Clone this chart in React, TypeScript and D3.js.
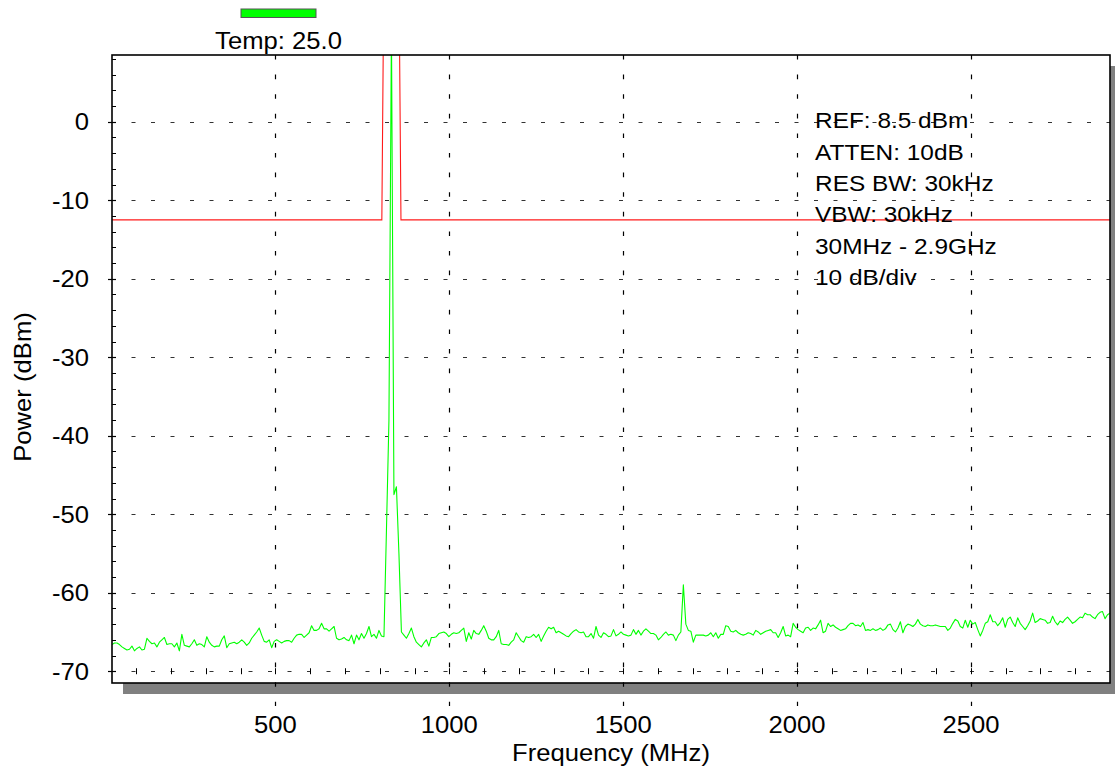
import React from 'react';
import * as d3 from 'd3';

// Sweep definition (401-point trace)
const FREQ_START = 30;
const FREQ_STOP = 2900;

// Measured trace (dBm), one value per sweep point
const POWER_DBM = [
  -66.6, -66.4, -66.4, -66.6, -66.9, -67.1, -67.3, -67.2, -66.8, -67.4,
  -67.1, -66.9, -67.3, -67.2, -65.8, -66.2, -66.5, -66.4, -66.9, -66.3,
  -66.0, -65.7, -66.6, -66.5, -66.5, -66.9, -66.4, -67.4, -65.3, -66.7,
  -66.8, -66.9, -66.5, -66.0, -66.7, -66.5, -66.6, -66.9, -65.6, -66.3,
  -66.7, -66.9, -66.8, -66.8, -66.0, -65.5, -67.0, -66.5, -66.4, -66.3,
  -66.5, -66.3, -66.0, -66.3, -66.7, -66.4, -65.8, -65.4, -65.0, -64.5,
  -65.4, -66.2, -66.3, -66.0, -67.0, -66.2, -66.0, -66.2, -66.4, -66.2,
  -66.1, -66.1, -66.3, -65.8, -65.4, -65.3, -65.3, -65.7, -65.4, -65.1,
  -64.2, -64.8, -64.8, -64.6, -63.9, -64.6, -64.6, -64.9, -64.6, -64.3,
  -65.8, -66.0, -65.9, -65.7, -66.0, -66.1, -65.4, -66.5, -65.4, -66.0,
  -65.2, -65.8, -65.2, -64.3, -65.6, -65.3, -65.8, -64.8, -65.5, -65.6,
  -52.0, -38.0, 12.0, -47.5, -46.5, -55.0, -65.0, -65.4, -65.8, -65.2,
  -64.5, -65.6, -66.3, -66.6, -66.9, -66.4, -66.0, -66.8, -65.7, -65.7,
  -65.6, -65.2, -65.1, -65.0, -65.2, -65.6, -65.3, -65.1, -65.2, -65.1,
  -64.8, -64.5, -66.2, -65.1, -65.9, -64.8, -65.2, -65.3, -64.8, -64.2,
  -64.9, -65.8, -66.0, -66.0, -65.6, -64.8, -66.5, -66.6, -66.6, -66.7,
  -66.3, -66.0, -65.1, -65.6, -66.1, -66.3, -65.6, -65.7, -65.6, -65.3,
  -65.7, -65.3, -66.2, -65.5, -64.9, -64.4, -64.6, -64.4, -65.1, -64.9,
  -65.1, -65.3, -65.5, -65.6, -65.2, -64.9, -64.7, -65.0, -65.1, -65.0,
  -65.6, -65.6, -65.2, -65.8, -64.3, -65.4, -65.7, -65.1, -65.3, -65.6,
  -65.5, -64.7, -65.5, -65.3, -65.0, -65.3, -65.4, -65.5, -65.4, -64.7,
  -65.3, -64.8, -65.4, -64.9, -64.6, -64.9, -65.2, -65.2, -65.4, -66.0,
  -65.7, -65.3, -65.0, -65.4, -65.3, -65.4, -66.1, -65.4, -65.0, -59.0,
  -64.0, -64.8, -64.9, -66.3, -65.4, -65.4, -65.4, -65.4, -65.5, -65.4,
  -65.1, -65.6, -65.1, -65.8, -65.3, -65.3, -64.2, -64.3, -64.9, -65.0,
  -64.8, -65.1, -65.3, -65.4, -65.3, -65.1, -65.2, -65.4, -64.8, -65.0,
  -65.3, -65.1, -64.9, -64.8, -64.7, -65.1, -65.1, -65.7, -65.1, -64.3,
  -65.5, -65.4, -65.6, -63.9, -64.4, -64.7, -64.9, -65.1, -64.5, -64.4,
  -64.8, -64.5, -64.6, -64.1, -63.5, -65.1, -64.9, -63.9, -64.3, -64.1,
  -64.4, -64.6, -64.8, -64.7, -64.6, -64.2, -63.9, -63.9, -64.2, -64.1,
  -64.3, -63.8, -64.8, -64.7, -64.8, -64.6, -64.8, -64.7, -64.5, -64.8,
  -64.6, -64.1, -64.0, -64.7, -65.0, -64.5, -63.7, -65.1, -64.3, -64.0,
  -64.1, -64.3, -64.0, -63.4, -64.0, -64.2, -64.3, -64.1, -64.2, -64.2,
  -64.1, -64.2, -64.3, -64.3, -64.3, -64.8, -64.5, -63.9, -63.4, -63.6,
  -64.3, -64.5, -63.5, -64.4, -63.5, -64.0, -63.8, -64.7, -65.5, -64.8,
  -63.9, -63.7, -62.8, -63.7, -63.7, -64.2, -63.8, -63.2, -64.4, -63.4,
  -63.1, -63.8, -64.3, -63.2, -63.9, -64.3, -64.7, -64.2, -63.6, -62.6,
  -63.8, -63.6, -63.3, -63.4, -63.5, -63.9, -63.8, -63.0, -63.7, -64.1,
  -63.6, -63.8, -63.4, -63.1, -63.5, -63.9, -63.7, -63.4, -63.1, -63.2,
  -62.6, -62.8, -62.8, -63.1, -63.3, -62.8, -62.5, -62.4, -63.3, -62.8,
  -62.6,
];

// Limit mask (red)
const MASK_FREQ = [30, 806, 812, 855, 861, 2900];
const MASK_DBM = [-12.5, -12.5, 20, 20, -12.5, -12.5];

const X_TICKS = [500, 1000, 1500, 2000, 2500];
const Y_TICKS = [0, -10, -20, -30, -40, -50, -60, -70];
const X_MINOR = d3.range(100, 2900, 100);
const Y_MINOR = d3.range(8, -71, -2);

const INFO_LINES = ['REF: 8.5 dBm', 'ATTEN: 10dB', 'RES BW: 30kHz', 'VBW: 30kHz', '30MHz - 2.9GHz', '10 dB/div'];
const LEGEND_LABEL = 'Temp: 25.0';
const X_TITLE = 'Frequency (MHz)';
const Y_TITLE = 'Power (dBm)';

const W = 1115;
const H = 770;
const P = { left: 112, top: 55, right: 1110, bottom: 683 };
const FONT = "'Liberation Sans', Arial, sans-serif";
const SX = 1.115;

export default function App() {
  const x = d3.scaleLinear().domain([FREQ_START, FREQ_STOP]).range([P.left, P.right]);
  const y = d3.scaleLinear().domain([-71.5, 8.5]).range([P.bottom, P.top]);
  const n = POWER_DBM.length;
  const step = (FREQ_STOP - FREQ_START) / (n - 1);
  const trace = POWER_DBM.map((v, i) => [FREQ_START + i * step, v] as [number, number]);
  const mask = MASK_FREQ.map((f, i) => [f, MASK_DBM[i]] as [number, number]);
  const line = d3.line<[number, number]>().x((d) => x(d[0])).y((d) => y(d[1]));

  const txt = (s: string, tx: number, ty: number, anchor: string, size: number, rot = 0, key?: any) => (
    <g key={key} transform={`translate(${tx},${ty}) rotate(${rot}) scale(${SX},1)`}>
      <text x={0} y={0} textAnchor={anchor} fontFamily={FONT} fontSize={size} fill="#000">{s}</text>
    </g>
  );

  return (
    <svg width={W} height={H} style={{ position: 'absolute', left: 0, top: 0, background: '#fff' }}>
      <defs>
        <clipPath id="plotclip">
          <rect x={P.left} y={P.top} width={P.right - P.left} height={P.bottom - P.top} />
        </clipPath>
      </defs>
      {/* shadow */}
      <rect x={P.left + 11} y={P.top + 11} width={P.right - P.left} height={P.bottom - P.top} fill="#808080" />
      {/* plot background */}
      <rect x={P.left} y={P.top} width={P.right - P.left} height={P.bottom - P.top} fill="#fff" />

      {/* horizontal grid */}
      {Y_TICKS.map((t) => (
        <line key={'hg' + t} x1={P.left} x2={P.right} y1={Math.round(y(t)) + 0.5} y2={Math.round(y(t)) + 0.5}
          stroke="#333" strokeWidth={1} strokeDasharray="4,15.5" />
      ))}
      {/* vertical grid (extends below axis) */}
      {X_TICKS.map((t) => (
        <line key={'vg' + t} x1={Math.round(x(t)) + 0.5} x2={Math.round(x(t)) + 0.5} y1={P.top} y2={706}
          stroke="#000" strokeWidth={1.2} strokeDasharray="4.6,15" />
      ))}
      {/* x minor ticks on bottom grid line */}
      {X_MINOR.map((t) => (
        <line key={'xm' + t} x1={Math.round(x(t)) + 0.5} x2={Math.round(x(t)) + 0.5} y1={y(-70) - 3} y2={y(-70) + 3}
          stroke="#000" strokeWidth={1} />
      ))}
      {/* y minor ticks */}
      {Y_MINOR.map((t) => (
        <line key={'ym' + t} x1={P.left} x2={P.left + 4} y1={Math.round(y(t)) + 0.5} y2={Math.round(y(t)) + 0.5}
          stroke="#000" strokeWidth={1} />
      ))}
      {/* y major ticks */}
      {Y_TICKS.map((t) => (
        <line key={'yM' + t} x1={P.left - 4} x2={P.left + 4} y1={Math.round(y(t)) + 0.5} y2={Math.round(y(t)) + 0.5}
          stroke="#000" strokeWidth={1.2} />
      ))}

      {/* traces */}
      <g clipPath="url(#plotclip)">
        <path d={line(mask) || ''} fill="none" stroke="#ff1a1a" strokeWidth={1.1} />
        <path d={line(trace) || ''} fill="none" stroke="#00ff00" strokeWidth={1.1} strokeLinejoin="round" />
      </g>

      {/* frame */}
      <rect x={P.left} y={P.top} width={P.right - P.left} height={P.bottom - P.top} fill="none" stroke="#000" strokeWidth={1.6} />

      {/* tick labels */}
      {Y_TICKS.map((t) => txt(String(t), 89, y(t) + 8.3, 'end', 23, 0, 'yl' + t))}
      {X_TICKS.map((t) => txt(String(t), x(t), 733, 'middle', 23, 0, 'xl' + t))}

      {/* axis titles */}
      {txt(X_TITLE, (P.left + P.right) / 2, 761, 'middle', 23)}
      {txt(Y_TITLE, 31, 387, 'middle', 23, -90)}

      {/* legend */}
      <rect x={241} y={9} width={75} height={8.5} fill="#00ff00" stroke="#555" strokeWidth={1} />
      {txt(LEGEND_LABEL, 278.5, 49, 'middle', 23)}

      {/* info text */}
      {INFO_LINES.map((s, i) => (
        <g key={'info' + i} transform={`translate(815,${128.3 + i * 31.3}) scale(${SX},1)`}>
          <text x={0} y={0} textAnchor="start" fontFamily={FONT} fontSize={21.9} fill="#000">{s}</text>
        </g>
      ))}
    </svg>
  );
}
